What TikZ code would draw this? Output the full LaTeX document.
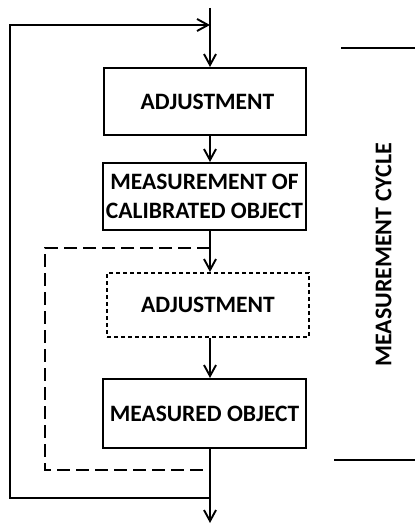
\documentclass[tikz,border=0pt]{standalone}
\usepackage{fontspec}
\setmainfont{Carlito}
\usetikzlibrary{arrows.meta}
\begin{document}
\begin{tikzpicture}[x=1bp,y=-1bp,
  line width=1.9bp,
  tip/.style={-{Straight Barb[length=11bp,width=12bp,line width=1.9bp]}},
  boxn/.style={draw,line width=2bp,minimum width=202bp,inner sep=0pt,align=center,
    font=\fontsize{23.5bp}{28.5bp}\selectfont\bfseries},
  dashloop/.style={dash pattern=on 13bp off 6bp,line width=2bp},
  dotbox/.style={dash pattern=on 4bp off 3bp},
  lbl/.style={font=\fontsize{24bp}{29bp}\selectfont\bfseries}]
\useasboundingbox (0,0) rectangle (415,524);
\fill[white] (0,0) rectangle (415,524);
\node[boxn,minimum height=67bp] (b1) at (204.5,101.5) {\hspace*{6bp}ADJUSTMENT};
\node[boxn,minimum height=67bp,minimum width=203bp] (b2) at (204.5,196.5) {MEASUREMENT OF\\CALIBRATED OBJECT};
\node[boxn,dotbox,minimum height=64bp] (b3) at (208,305) {ADJUSTMENT};
\node[boxn,minimum height=69bp,minimum width=203bp] (b4) at (204.5,413.5) {MEASURED OBJECT};
\node[lbl,rotate=90] (cyc) at (383.5,255) {MEASUREMENT CYCLE};
\coordinate (top) at (210,8);
\coordinate (fbtop) at (210,25);
\coordinate (dtop) at (210,248);
\coordinate (dbot) at (210,470);
\coordinate (fbbot) at (210,498);
\coordinate (out) at (210,523);
\coordinate (fl) at (10,25);
\coordinate (dl) at (45,248);
% main flow
\draw[tip] (top) -- (top |- b1.north);
\draw[tip] (top |- b1.south) -- (top |- b2.north);
\draw[tip] (top |- b2.south) -- (top |- b3.north);
\draw[tip] (top |- b3.south) -- (top |- b4.north);
\draw[tip] (top |- b4.south) -- (out);
% feedback loop
\draw[tip] (fbbot) -- (fbbot -| fl) -- (fl) -- (fbtop);
% dashed loop
\draw[dashloop] (dtop) -- (dl) -- (dl |- dbot) -- (dbot);
% right lines
\coordinate (r1) at (341,48);
\coordinate (r2) at (334,460);
\draw[line width=1.5bp] (r1) -- (415,48);
\draw[line width=1.5bp] (r2) -- (415,460);
\end{tikzpicture}
\end{document}
